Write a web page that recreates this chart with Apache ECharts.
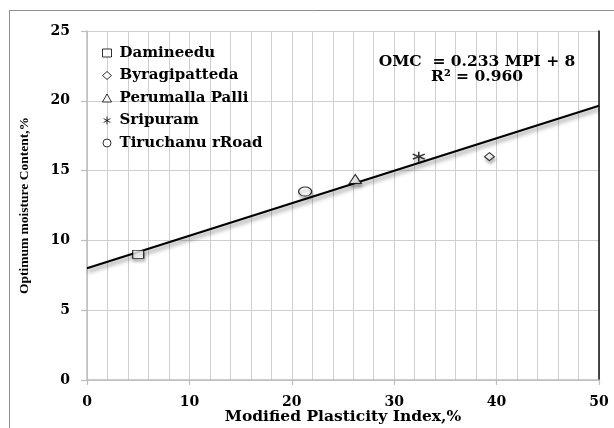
<!DOCTYPE html>
<html>
<head>
<meta charset="utf-8">
<script src="https://cdn.jsdelivr.net/npm/echarts@6/dist/echarts.min.js"></script>
<style>
  html, body { margin: 0; padding: 0; background: #fff; }
  #chart { width: 614px; height: 428px; }
</style>
</head>
<body>
<div id="chart"></div>
<script>
// Sample locations: modified plasticity index (%) vs optimum moisture content (%)
const locations = ['Damineedu', 'Byragipatteda', 'Perumalla Palli', 'Sripuram', 'Tiruchanu rRoad'];
const mpiValues = [5.0, 39.3, 26.2, 32.4, 21.3];
const omcValues = [9.0, 16.0, 14.4, 16.0, 13.5];

// Fitted relation printed on the chart
const SLOPE = 0.233;
const INTERCEPT = 8;
const R2 = '0.960';
const fitRange = [0, 50];

// Axis ranges / ticks
const xTicks = { min: 0, max: 50, step: 10 };
const yTicks = { min: 0, max: 25, step: 5 };

const SERIF_WIDE = '"DejaVu Serif", serif';

const ASTERISK = 'path://M5,0L5,10M0.7,2.5L9.3,7.5M0.7,7.5L9.3,2.5';
const symbols = ['rect', 'diamond', 'triangle', ASTERISK, 'circle'];
const symbolSizes = [[11, 8], [10, 8], [12, 9], [12, 10], [13, 9]];

const markerShadow = {
  shadowColor: 'rgba(0,0,0,0.3)',
  shadowBlur: 3,
  shadowOffsetX: 1,
  shadowOffsetY: 3
};

const pointSeries = locations.map((name, i) => ({
  name: name,
  type: 'scatter',
  symbol: symbols[i],
  symbolSize: symbolSizes[i],
  data: [[mpiValues[i], omcValues[i]]],
  itemStyle: Object.assign({
    color: i === 3 ? 'transparent' : '#ffffff',
    borderColor: '#000',
    borderWidth: i === 3 ? 1.4 : 1.1
  }, markerShadow),
  z: 4
}));

const fitSeries = {
  name: 'fit',
  type: 'line',
  data: fitRange.map(x => [x, INTERCEPT + SLOPE * x]),
  symbol: 'none',
  silent: true,
  lineStyle: {
    color: '#000',
    width: 2,
    shadowColor: 'rgba(0,0,0,0.5)',
    shadowBlur: 4,
    shadowOffsetX: 1,
    shadowOffsetY: 3
  },
  z: 3
};

const labelFont = {
  fontFamily: SERIF_WIDE,
  fontWeight: 'bold',
  fontSize: 14,
  color: '#000'
};

const chart = echarts.init(document.getElementById('chart'), null, { renderer: 'canvas' });

chart.setOption({
  animation: false,
  backgroundColor: '#fff',
  grid: { left: 87, right: 15, top: 31, bottom: 48, outerBoundsMode: 'none', containLabel: false },
  legend: {
    data: locations,
    orient: 'vertical',
    left: 97,
    top: 40,
    itemWidth: 9,
    itemHeight: 8,
    itemGap: 6.5,
    selectedMode: false,
    itemStyle: {
      color: '#fff',
      borderColor: '#000',
      borderWidth: 1,
      shadowBlur: 0,
      shadowOffsetX: 0,
      shadowOffsetY: 0,
      shadowColor: 'transparent'
    },
    textStyle: {
      fontFamily: SERIF_WIDE,
      fontWeight: 'bold',
      fontSize: 15,
      lineHeight: 16,
      color: '#000',
      padding: [0, 0, 0, 3]
    }
  },
  xAxis: {
    type: 'value',
    min: xTicks.min,
    max: xTicks.max,
    interval: xTicks.step,
    name: 'Modified Plasticity Index,%',
    nameLocation: 'middle',
    nameGap: 29,
    nameMoveOverlap: false,
    nameTextStyle: {
      fontFamily: SERIF_WIDE,
      fontWeight: 'bold',
      fontSize: 15.5,
      color: '#000'
    },
    axisLine: { show: true, lineStyle: { color: '#bdbdbd', width: 1.5 } },
    axisTick: { show: true, length: 5, lineStyle: { color: '#bdbdbd', width: 1.2 } },
    axisLabel: Object.assign({ margin: 15 }, labelFont),
    splitLine: { show: true, lineStyle: { color: '#cfcfcf', width: 1 } },
    minorTick: { show: false, splitNumber: 5 },
    minorSplitLine: { show: true, lineStyle: { color: '#cfcfcf', width: 1 } }
  },
  yAxis: [{
    type: 'value',
    min: yTicks.min,
    max: yTicks.max,
    interval: yTicks.step,
    name: 'Optimum moisture Content,%',
    nameLocation: 'middle',
    nameRotate: 90,
    nameGap: 55,
    nameMoveOverlap: false,
    nameTextStyle: {
      fontFamily: '"Liberation Serif", serif',
      fontWeight: 'bold',
      fontSize: 13.5,
      color: '#000'
    },
    axisLine: { show: true, lineStyle: { color: '#bdbdbd', width: 1.5 } },
    axisTick: { show: true, length: 6, lineStyle: { color: '#bdbdbd', width: 1.2 } },
    axisLabel: Object.assign({ margin: 17 }, labelFont),
    splitLine: { show: true, lineStyle: { color: '#cfcfcf', width: 1 } }
  }, {
    type: 'value',
    position: 'right',
    min: yTicks.min,
    max: yTicks.max,
    interval: yTicks.step,
    axisLine: { show: true, lineStyle: { color: '#111', width: 1.5 } },
    axisTick: { show: false },
    axisLabel: { show: false },
    splitLine: { show: false }
  }],
  graphic: [{
    type: 'rect',
    silent: true,
    shape: { x: 9.5, y: 10.5, width: 640, height: 440 },
    style: { fill: 'none', stroke: '#8f8f8f', lineWidth: 1 },
    z: -1
  }, {
    type: 'text',
    silent: true,
    x: 477,
    y: 54,
    style: {
      text: 'OMC  = ' + SLOPE + ' MPI + ' + INTERCEPT + '\nR² = ' + R2,
      align: 'center',
      verticalAlign: 'top',
      font: 'bold 15.5px "DejaVu Serif", serif',
      lineHeight: 15,
      fill: '#000'
    },
    z: 10
  }],
  series: pointSeries.concat([fitSeries])
});
</script>
</body>
</html>
